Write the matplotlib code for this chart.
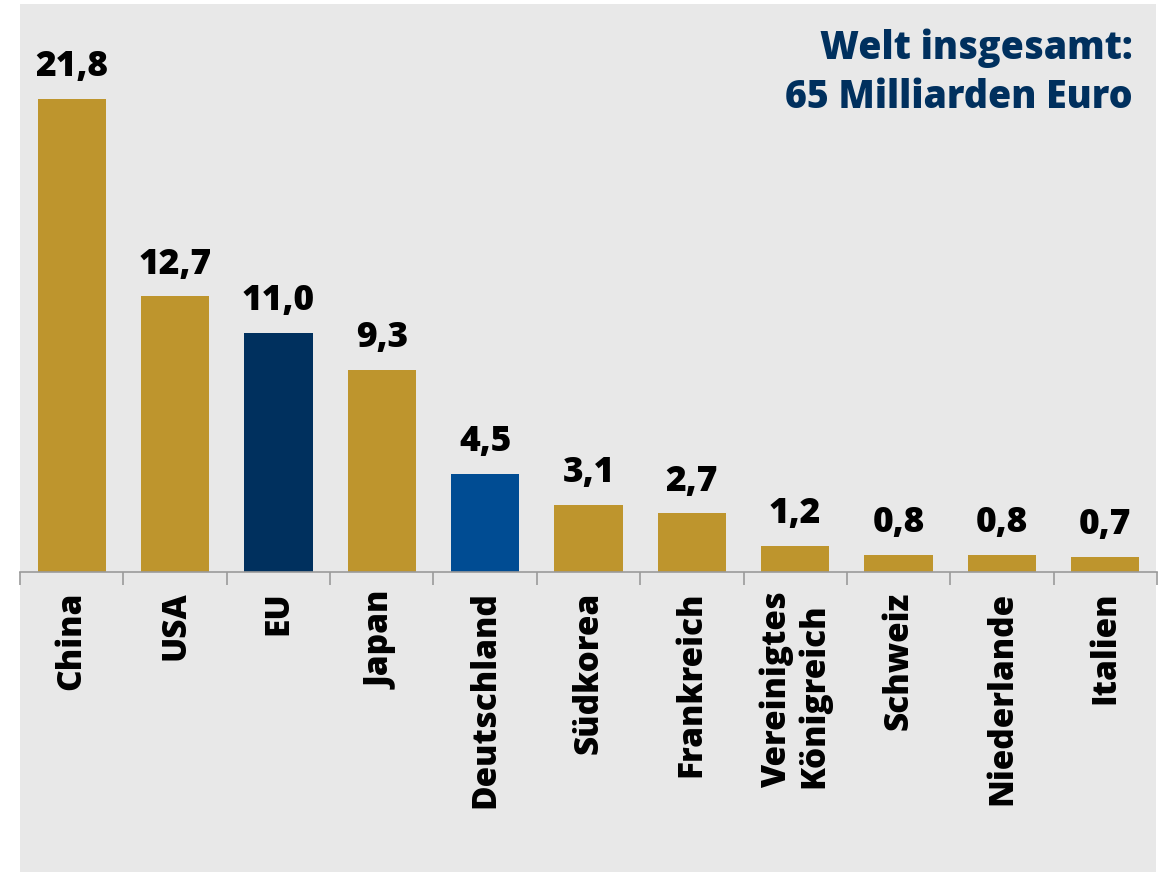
import matplotlib.pyplot as plt
import matplotlib.patches as mpatches
import numpy as np

countries = ['China', 'USA', 'EU', 'Japan', 'Deutschland', 'Südkorea', 'Frankreich',
             'Vereinigtes\nKönigreich', 'Schweiz', 'Niederlande', 'Italien']
values = [21.8, 12.7, 11.0, 9.3, 4.5, 3.1, 2.7, 1.2, 0.8, 0.8, 0.7]
labels = ['21,8', '12,7', '11,0', '9,3', '4,5', '3,1', '2,7', '1,2', '0,8', '0,8', '0,7']

gold = '#BE952D'
colors = [gold, gold, '#00305E', gold, '#004C93', gold, gold, gold, gold, gold, gold]

plt.rcParams['font.family'] = ['Open Sans', 'DejaVu Sans']
plt.rcParams['font.weight'] = 'bold'

W, H = 1166, 875
fig = plt.figure(figsize=(W / 100, H / 100), dpi=100, facecolor='white')

# grey panel behind everything
fig.patches.append(mpatches.Rectangle((20 / W, 1 - 872 / H), (1156 - 20) / W, (872 - 4) / H,
                                      transform=fig.transFigure, facecolor='#E8E8E8',
                                      edgecolor='none', zorder=-10))

ax = fig.add_axes([20 / W, 1 - 572 / H, (1157 - 20) / W, (572 - 4) / H])
ax.set_facecolor('none')

x = np.arange(len(countries))
ax.bar(x, values, width=0.66, color=colors, zorder=2)

for xi, v, lab in zip(x, values, labels):
    ax.annotate(lab, (xi, v), xytext=(0, 10), textcoords='offset points',
                ha='center', va='bottom', fontsize=25.5, fontweight='heavy', color='black')

ax.set_xlim(-0.5, len(countries) - 0.5)
ax.set_ylim(0, 568 / 21.7)

for s in ['top', 'right', 'left']:
    ax.spines[s].set_visible(False)
ax.spines['bottom'].set_color('#9A9A9A')
ax.spines['bottom'].set_linewidth(1.2)

ax.set_yticks([])
ax.set_xticks(x)
ax.set_xticklabels(countries, rotation=90, ha='center', va='top', multialignment='left',
                   fontsize=24, fontweight='heavy', linespacing=1.1)
ax.tick_params(axis='x', which='major', length=0, pad=14)
ax.set_xticks(np.arange(-0.5, len(countries), 1.0), minor=True)
ax.tick_params(axis='x', which='minor', length=9, width=1.2, color='#9A9A9A')

fig.text(1133 / W, 1 - 28 / H, 'Welt insgesamt:\n65 Milliarden Euro', ha='right', va='top',
         fontsize=27, fontweight='heavy', color='#00305E', linespacing=1.35)

fig.savefig('out.png', dpi=100, facecolor='white')
